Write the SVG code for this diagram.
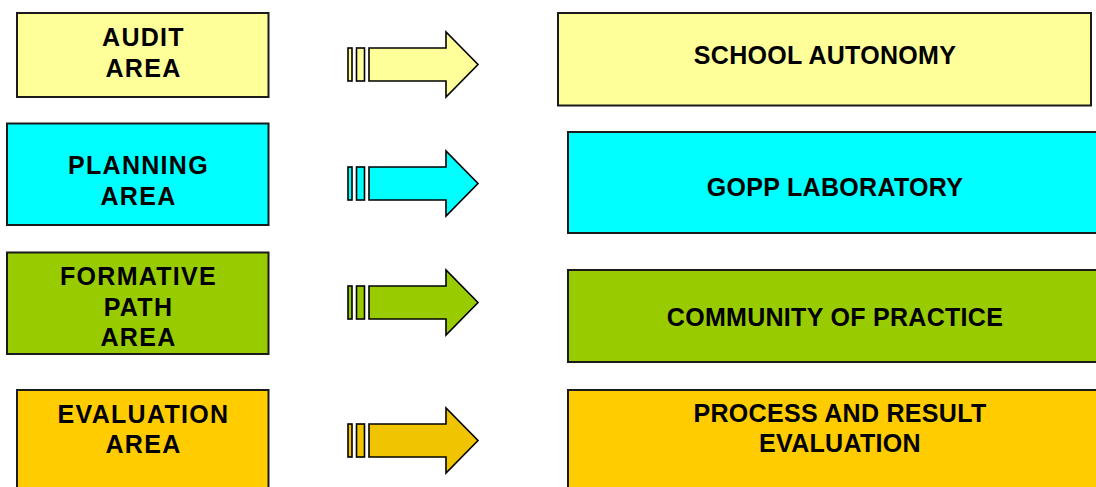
<svg xmlns="http://www.w3.org/2000/svg" width="1096" height="487" viewBox="0 0 1096 487">
  <style>
    .box { stroke: #1a1a1a; stroke-width: 2; }
    .arrow { stroke: #000; stroke-width: 1.6; stroke-linejoin: miter; }
    .lbl { font-family: "Liberation Sans", Arial, sans-serif; font-weight: bold; font-size: 25px; fill: #000; text-anchor: middle; letter-spacing: 0.3px; }
    .area { letter-spacing: 1.3px; }
    .yellow { fill: #FFFF99; }
    .cyan { fill: #00FFFF; }
    .green { fill: #99CC00; }
    .gold { fill: #FFCC00; }
    .gold-arrow { fill: #F0C400; }
  </style>
  <defs>
    <!-- striped block arrow, drawn with its vertical centre at y=0 -->
    <g id="blockArrow">
      <rect x="348" y="-16.5" width="4" height="33"/>
      <rect x="356.5" y="-16.5" width="8" height="33"/>
      <polygon points="369,-16.5 446,-16.5 446,-32.5 478,0 446,32.5 446,16.5 369,16.5"/>
    </g>
  </defs>

  <!-- left column: areas -->
  <g id="audit-area">
    <rect class="box yellow" x="17" y="13" width="251.5" height="84"/>
    <text class="lbl area" x="143.5" y="46">AUDIT</text>
    <text class="lbl area" x="143.5" y="77">AREA</text>
  </g>
  <g id="planning-area">
    <rect class="box cyan" x="7" y="123.5" width="261.5" height="101.5"/>
    <text class="lbl area" x="138.5" y="174">PLANNING</text>
    <text class="lbl area" x="138.5" y="205">AREA</text>
  </g>
  <g id="formative-path-area">
    <rect class="box green" x="7" y="252.5" width="261.5" height="101.5"/>
    <text class="lbl area" x="138.5" y="285">FORMATIVE</text>
    <text class="lbl area" x="138.5" y="316">PATH</text>
    <text class="lbl area" x="138.5" y="346">AREA</text>
  </g>
  <g id="evaluation-area">
    <rect class="box gold" x="17" y="390" width="251.5" height="110"/>
    <text class="lbl area" x="143.5" y="423">EVALUATION</text>
    <text class="lbl area" x="143.5" y="453">AREA</text>
  </g>

  <!-- right column: outcomes -->
  <g id="school-autonomy">
    <rect class="box yellow" x="558" y="13" width="533" height="92.5"/>
    <text class="lbl" x="825" y="64">SCHOOL AUTONOMY</text>
  </g>
  <g id="gopp-laboratory">
    <rect class="box cyan" x="568" y="132" width="540" height="101"/>
    <text class="lbl" x="835" y="196">GOPP LABORATORY</text>
  </g>
  <g id="community-of-practice">
    <rect class="box green" x="568" y="270" width="540" height="92"/>
    <text class="lbl" x="835" y="326">COMMUNITY OF PRACTICE</text>
  </g>
  <g id="process-result-evaluation">
    <rect class="box gold" x="568" y="390" width="540" height="110"/>
    <text class="lbl" x="840" y="422">PROCESS AND RESULT</text>
    <text class="lbl" x="840" y="452">EVALUATION</text>
  </g>

  <!-- connectors -->
  <g id="connectors">
    <use href="#blockArrow" class="arrow yellow" transform="translate(0,64.5)"/>
    <use href="#blockArrow" class="arrow cyan" transform="translate(0,183.5)"/>
    <use href="#blockArrow" class="arrow green" transform="translate(0,302.5)"/>
    <use href="#blockArrow" class="arrow gold-arrow" transform="translate(0,440.5)"/>
  </g>
</svg>
